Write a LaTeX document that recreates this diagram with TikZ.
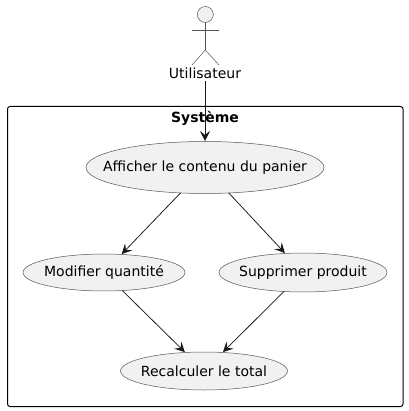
\documentclass[tikz,border=0pt]{standalone}
\usepackage{fontspec}
\setmainfont{DejaVu Sans}
\usetikzlibrary{arrows.meta,shapes.geometric}
\definecolor{ucfill}{HTML}{F1F1F1}
\definecolor{ucline}{HTML}{181818}
\definecolor{thinline}{HTML}{555555}
\newcommand{\uctext}[1]{\makebox[0pt]{#1}}
\tikzset{
  usecase/.style={ellipse,draw=thinline,line width=0.5pt,fill=ucfill,inner sep=0pt,outer sep=0pt,font=\fontsize{14}{16}\selectfont,text=black},
  flow/.style={draw=ucline,line width=0.75pt,-{Stealth[length=10pt,width=10pt,inset=4pt]},shorten >=0.5pt},
  stick/.style={draw=thinline,line width=0.5pt},
}
\begin{document}
\begin{tikzpicture}[x=1pt,y=-1pt]
\useasboundingbox (0,0) rectangle (408,411);
\fill[white] (0,0) rectangle (408,411);
\draw[black,line width=1pt,rounded corners=2.5pt] (7.5,106.5) rectangle (403,406.5);
\node[font=\fontsize{14}{16}\selectfont\bfseries,text=black,inner sep=0pt] (sys) at (205,118) {Système};
\node[circle,draw=thinline,line width=0.5pt,fill=ucfill,minimum size=16pt,inner sep=0pt] (head) at (205.3,14.5) {};
\coordinate (hip) at (205.3,50);
\coordinate (armL) at (192,30);
\coordinate (armR) at (219,30);
\coordinate (legL) at (192,65);
\coordinate (legR) at (219,65);
\draw[stick] (head.south) -- (hip);
\draw[stick] (armL) -- (armR);
\draw[stick] (legL) -- (hip) -- (legR);
\node[font=\fontsize{14}{16}\selectfont,text=black,inner sep=0pt,minimum height=14pt] (user) at (205,73.5) {Utilisateur};
\node[usecase,minimum width=238pt,minimum height=52pt] (show) at (205,167.5) {\uctext{Afficher le contenu du panier}};
\node[usecase,minimum width=162pt,minimum height=37pt] (mod) at (104,272.5) {\uctext{Modifier quantité}};
\node[usecase,minimum width=168pt,minimum height=39pt] (del) at (303,272.5) {\uctext{Supprimer produit}};
\node[usecase,minimum width=167pt,minimum height=38pt] (tot) at (204,371) {\uctext{Recalculer le total}};
\draw[flow] (user.south) -- (show);
\draw[flow] (show) -- (mod);
\draw[flow] (show) -- (del);
\draw[flow] (mod) -- (tot);
\draw[flow] (del) -- (tot);
\end{tikzpicture}
\end{document}
